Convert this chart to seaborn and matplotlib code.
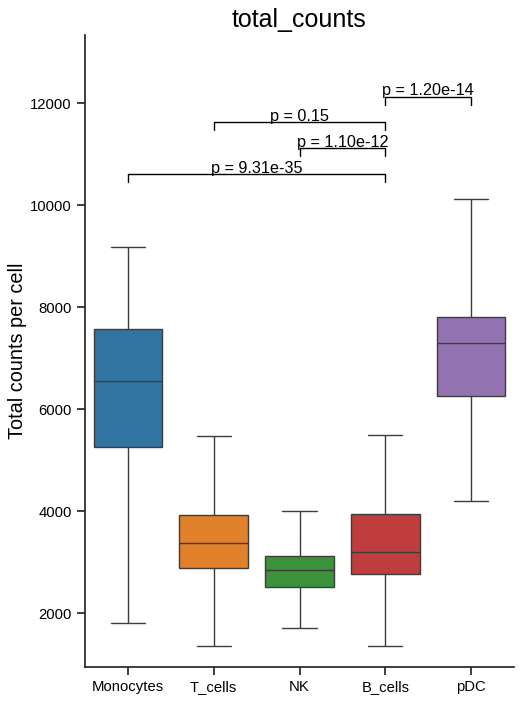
import numpy as np
import pandas as pd
import matplotlib
matplotlib.use("Agg")
import matplotlib.pyplot as plt
import seaborn as sns

# Data: per-group five-number summaries
categories = ["Monocytes", "T_cells", "NK", "B_cells", "pDC"]
low_whisker = [1803, 1362, 1705, 1350, 4206]
q1_values = [5252, 2887, 2512, 2768, 6256]
medians = [6551, 3379, 2839, 3202, 7300]
q3_values = [7575, 3923, 3123, 3942, 7811]
high_whisker = [9189, 5467, 4009, 5487, 10121]

# Pairwise comparison annotations
pair_a = ["Monocytes", "NK", "T_cells", "B_cells"]
pair_b = ["B_cells", "B_cells", "B_cells", "pDC"]
pair_labels = ["p = 9.31e-35", "p = 1.10e-12", "p = 0.15", "p = 1.20e-14"]
pair_levels = [10608, 11118, 11628, 12130]

sns.set_theme(style="ticks")
plt.rcParams["font.family"] = ["Liberation Sans", "DejaVu Sans"]
plt.rcParams["text.color"] = "black"
plt.rcParams["axes.labelcolor"] = "black"
plt.rcParams["xtick.labelcolor"] = "black"
plt.rcParams["ytick.labelcolor"] = "black"

rows = []
for c, lo, a, m, b, hi in zip(categories, low_whisker, q1_values, medians, q3_values, high_whisker):
    for v in (lo, a, m, b, hi):
        rows.append({"group": c, "total_counts": v})
df = pd.DataFrame(rows)

fig = plt.figure(figsize=(5.22, 7.02), dpi=100)
ax = fig.add_axes([85 / 522, 1 - 667 / 702, (514 - 85) / 522, (667 - 35) / 702])

sns.boxplot(data=df, x="group", y="total_counts", hue="group", order=categories,
            hue_order=categories, palette="tab10", legend=False, whis=(0, 100),
            showfliers=False, linewidth=1, ax=ax)

tick_h = 155
for a, b, lab, lev in zip(pair_a, pair_b, pair_labels, pair_levels):
    x1 = categories.index(a)
    x2 = categories.index(b)
    ax.plot([x1, x1, x2, x2], [lev - tick_h, lev, lev, lev - tick_h], color="black", lw=1)
    ax.text((x1 + x2) / 2, lev - 25, lab, ha="center", va="bottom", fontsize=11.7, color="black")

ax.set_xlim(-0.5, 4.5)
ax.set_ylim(942, 13340)
ax.set_yticks([2000, 4000, 6000, 8000, 10000, 12000])
ax.set_xlabel("")
ax.set_ylabel("Total counts per cell", fontsize=14.3, labelpad=2)
ax.set_title("total_counts", fontsize=18)
ax.tick_params(labelsize=10.7)
sns.despine(ax=ax)

fig.savefig("out.png", dpi=100)
